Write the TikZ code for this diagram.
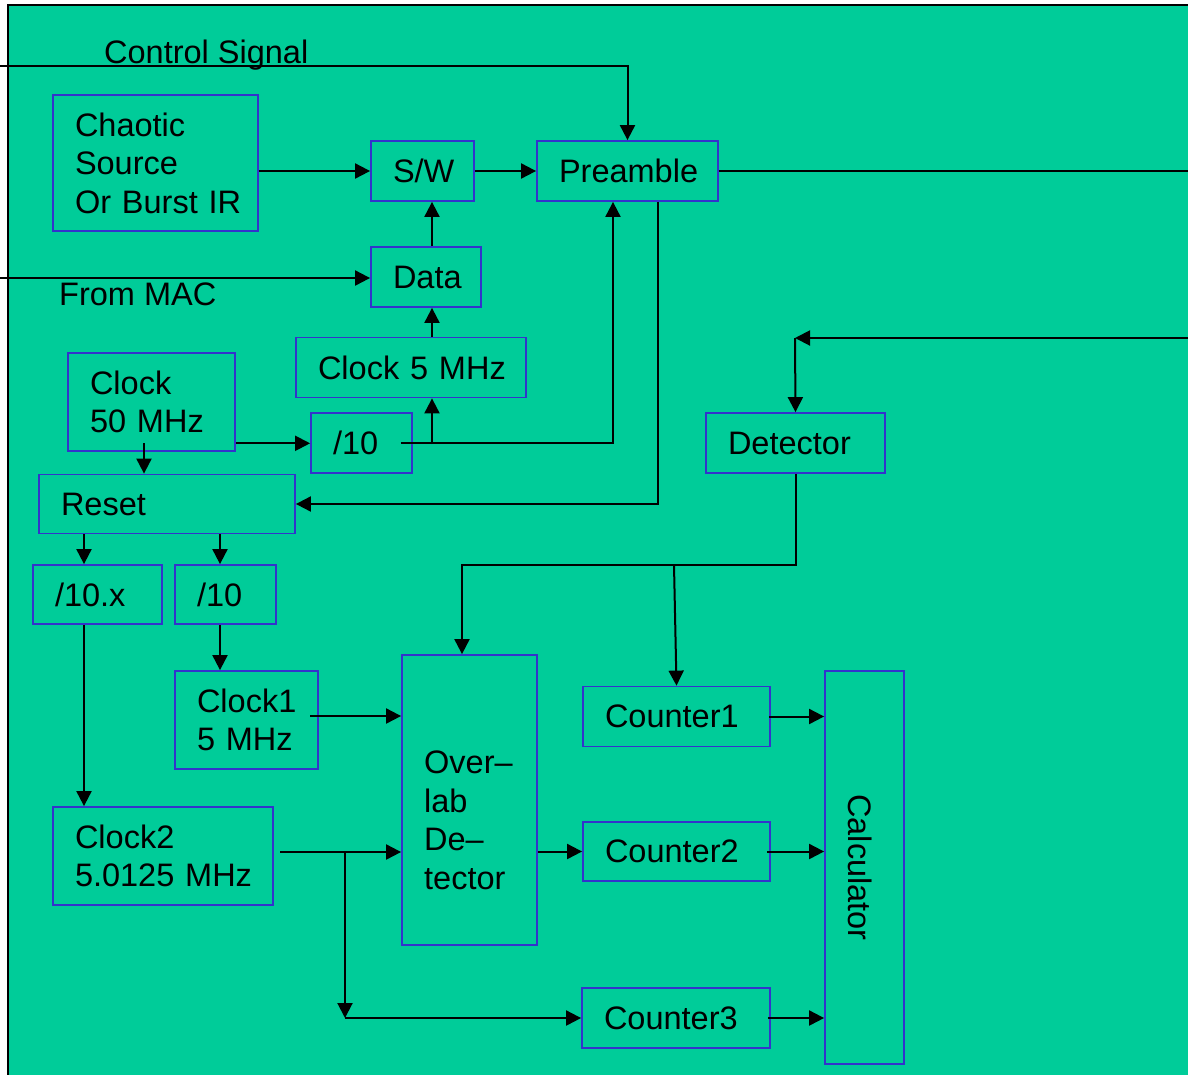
\documentclass[tikz,border=0pt]{standalone}
\usepackage{fontspec}
\setmainfont{Liberation Sans}
\usetikzlibrary{arrows.meta,calc}
\definecolor{bggreen}{RGB}{0,204,153}
\definecolor{boxblue}{RGB}{51,51,204}
\begin{document}
\begin{tikzpicture}[x=1pt,y=-1pt,
  box/.style={draw=boxblue, line width=1.8pt, inner xsep=22pt, inner ysep=0pt, align=left, font=\fontsize{32.5}{38.5}\selectfont},
  txt/.style={font=\fontsize{32.5}{38.5}\selectfont, inner sep=0pt},
  conn/.style={line width=2pt, draw=black},
  arr/.style={conn, -{Triangle[length=15pt,width=15pt]}}
]
\useasboundingbox (0,0) rectangle (1188,1074);
\clip (0,0) rectangle (1188,1074);
\fill[bggreen] (8,5) rectangle (1200,1090);
\draw[line width=2pt] (8,1090) -- (8,5) -- (1200,5);

% boxes
\node[box, text width=161pt, minimum height=136pt] (chaotic) at (155.5,163) {Chaotic\\Source\\\mbox{Or Burst IR}};
\node[box, text width=59pt, minimum height=60pt] (sw) at (422.5,171) {\mbox{S/W}};
\node[box, text width=137pt, minimum height=60pt] (pre) at (627.5,171) {\mbox{Preamble}};
\node[box, text width=66pt, minimum height=60pt] (data) at (426,277) {\mbox{Data}};
\node[box, text width=186pt, minimum height=60pt] (clk5) at (411,367.5) {\mbox{Clock 5 MHz}};
\node[box, text width=57pt, minimum height=60pt] (d10) at (361.5,443.3) {\mbox{/10}};
\node[box, text width=123pt, minimum height=98pt] (c50) at (151.5,402) {Clock\\\mbox{50 MHz}};
\node[box, text width=212pt, minimum height=59pt] (reset) at (167,504) {\mbox{Reset}};
\node[box, text width=85pt, minimum height=59pt] (d10x) at (97.5,594.5) {\mbox{/10.x}};
\node[box, text width=57pt, minimum height=59pt] (d10b) at (225.5,594.5) {\mbox{/10}};
\node[box, text width=99pt, minimum height=98pt] (clk1) at (246.5,720) {\mbox{Clock1}\\\mbox{5 MHz}};
\node[box, text width=176pt, minimum height=98pt] (clk2) at (163,856) {\mbox{Clock2}\\\mbox{5.0125 MHz}};
\node[box, minimum width=135pt, minimum height=290pt] (ovl) at (469.5,800) {};
\node[box, text width=143pt, minimum height=60pt] (cnt1) at (676.5,716.5) {\mbox{Counter1}};
\node[box, text width=143pt, minimum height=59pt] (cnt2) at (676.5,851.5) {\mbox{Counter2}};
\node[box, text width=144pt, minimum height=60pt] (cnt3) at (676,1018) {\mbox{Counter3}};
\node[box, text width=135pt, minimum height=60pt] (det) at (795.5,443) {\mbox{Detector}};
\node[box, minimum width=79pt, minimum height=393pt] (calc) at (864.5,867.5) {};

% free texts
\node[txt, anchor=base west] (lblcs) at (104,63) {Control Signal};
\node[txt, anchor=base west] (lblmac) at (59,305) {From MAC};
\node[txt, anchor=north west, align=left] (ovltxt) at (424,751) {Over–\\lab\\De–\\tector};
\node[txt, rotate=-90, anchor=base] (calctxt) at (848,867.5) {Calculator};

% helper coordinates
\coordinate (cs) at (0,66);
\coordinate (mac) at (0,278);
\coordinate (out) at (1188,172);
\coordinate (vx) at (432,444);
\coordinate (p1) at ($(pre.south)+(-14.5,0)$);
\coordinate (p2) at ($(pre.south)+(30.5,0)$);
\coordinate (rx) at (144,443);
\coordinate (ca) at (84,0);
\coordinate (cb) at (220,0);
\coordinate (c1o) at (310,716);
\coordinate (c2o) at (280,852);
\coordinate (j2) at (345,852);
\coordinate (din) at (1188,338);
\coordinate (dc) at (795,338);
\coordinate (j3) at (462,565);
\coordinate (j4) at (674,565);

% connectors
\draw[arr] (cs) -| (pre.north);
\draw[arr] (chaotic.east |- sw.west) -- (sw.west);
\draw[arr] (sw.east) -- (pre.west);
\draw[conn] (pre.east) -- (pre.east -| out);
\draw[arr] (data.north -| vx) -- (sw.south -| vx);
\draw[arr] (clk5.north -| vx) -- (data.south -| vx);
\draw[arr] (mac) -- (mac -| data.west);
\draw[arr] ([xshift=-12pt]d10.east) -| (p1);
\draw[arr] (vx) -- (clk5.south -| vx);
\draw[arr] (c50.east |- d10.west) -- (d10.west);
\draw[arr] (rx) -- (rx |- reset.north);
\draw[arr] (p2) |- (reset.east);
\draw[arr] (reset.south -| ca) -- (d10x.north -| ca);
\draw[arr] (reset.south -| cb) -- (d10b.north -| cb);
\draw[arr] (d10x.south -| ca) -- (clk2.north -| ca);
\draw[arr] (d10b.south -| cb) -- (clk1.north -| cb);
\draw[arr] (c1o) -- (c1o -| ovl.west);
\draw[arr] (c2o) -- (c2o -| ovl.west);
\draw[arr] (j2) -- (j2 |- cnt3.west);
\draw[arr] (j2 |- cnt3.west) -- (cnt3.west);
\draw[arr] (ovl.east |- cnt2.west) -- (cnt2.west);
\draw[arr] ([xshift=-2pt]cnt1.east) -- (cnt1.east -| calc.west);
\draw[arr] ([xshift=-4pt]cnt2.east) -- (cnt2.east -| calc.west);
\draw[arr] ([xshift=-3pt]cnt3.east) -- (cnt3.east -| calc.west);
\draw[arr] (din) -- (dc);
\draw[arr] (dc) -- (det.north);
\draw[arr] (det.south) |- (j3) -- (j3 |- ovl.north);
\draw[arr] (j4) -- (cnt1.north);
\end{tikzpicture}
\end{document}
